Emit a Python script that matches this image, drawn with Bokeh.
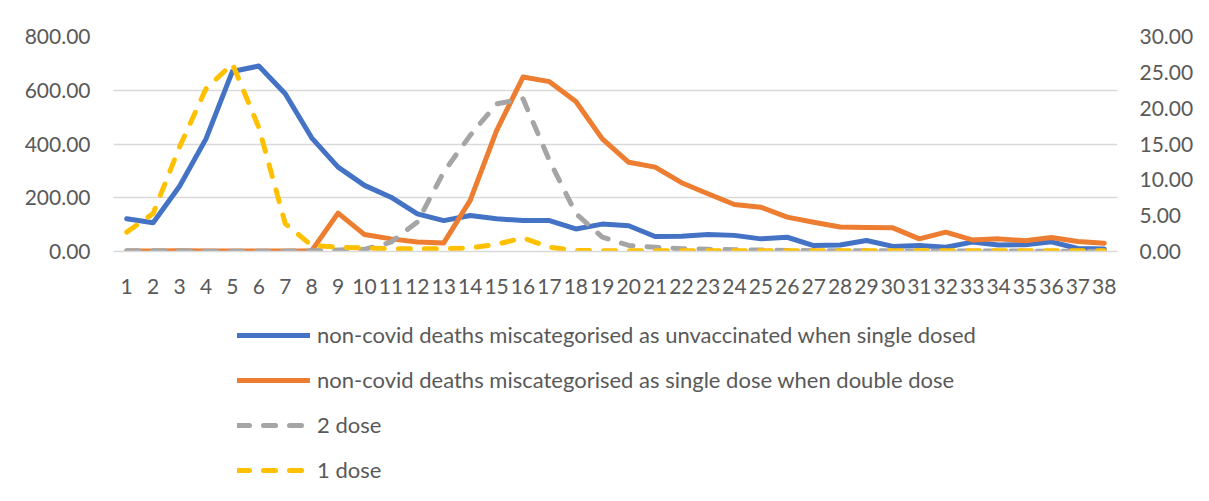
from bokeh.plotting import figure
from bokeh.layouts import column
from bokeh.models import (Range1d, LinearAxis, FactorRange, Legend, LegendItem,
                          NumeralTickFormatter, FixedTicker, BoxAnnotation)
from bokeh.embed import file_html
from bokeh.resources import INLINE

weeks = [str(i) for i in range(1, 39)]

unvacc_single = [122, 107, 243, 419, 670, 690, 587, 423, 314, 246, 202, 140, 115, 134, 122,
                 115, 115, 84, 102, 96, 56, 57, 63, 60, 47, 53,
                 22, 24, 41, 19, 22, 16, 35, 24, 25, 36, 11, 9]
single_double = [2, 2, 3, 2, 2, 2, 2, 3, 143, 63, 47, 35, 32, 190,
                 450, 649, 632, 558, 419, 332, 314, 256, 215, 175, 165, 128,
                 109, 91, 89, 88, 47, 72, 43, 47, 40, 52, 37, 31]
dose2 = [0.1, 0.1, 0.1, 0.05, 0.05, 0.05, 0.05, 0.1, 0.2, 0.3, 1.3, 4.1, 11.1, 16.2,
         20.6, 21.3, 12.7, 5.3, 2.0, 0.84, 0.6, 0.4, 0.3, 0.25, 0.2, 0.15,
         0.12, 0.1, 0.1, 0.08, 0.08, 0.07, 0.06, 0.06, 0.05, 0.05, 0.05, 0.05]
dose1 = [2.7, 5.3, 14.6, 22.7, 26.2, 17.3, 3.9, 0.84, 0.6, 0.5, 0.4, 0.4, 0.4, 0.5,
         1.0, 1.9, 0.6, 0.15] + [0.1] * 20

series_names = ["non-covid deaths miscategorised as unvaccinated when single dosed",
                "non-covid deaths miscategorised as single dose when double dose",
                "2 dose", "1 dose"]

left_ticks = [0, 200, 400, 600, 800]
right_ticks = [0, 5, 10, 15, 20, 25, 30]

FONT = "Lato"
TXT = "#595959"
GRID = "#d9d9d9"
COLORS = ["#4472C4", "#ED7D31", "#A5A5A5", "#FFC000"]
LW = 5

p = figure(frame_width=1004, frame_height=215, x_range=FactorRange(*weeks, range_padding=0),
           y_range=Range1d(0, 800), output_backend="svg", toolbar_location=None,
           min_border_left=113, min_border_right=92, min_border_top=36, min_border_bottom=60)
p.extra_y_ranges = {"right": Range1d(0, 30)}
p.outline_line_color = None
p.background_fill_color = "white"
p.border_fill_color = "white"

p.yaxis.ticker = FixedTicker(ticks=left_ticks)
p.yaxis.formatter = NumeralTickFormatter(format="0.00")
p.yaxis.axis_line_color = None
p.yaxis.major_tick_line_color = None
p.yaxis.minor_tick_line_color = None
p.yaxis.major_tick_out = 0
p.yaxis.major_tick_in = 0
p.yaxis.major_label_standoff = 23
p.yaxis.major_label_text_font = FONT
p.yaxis.major_label_text_font_size = "21px"
p.yaxis.major_label_text_color = TXT

raxis = LinearAxis(y_range_name="right", ticker=FixedTicker(ticks=right_ticks),
                   formatter=NumeralTickFormatter(format="0.00"))
raxis.axis_line_color = None
raxis.major_tick_line_color = None
raxis.minor_tick_line_color = None
raxis.major_tick_out = 0
raxis.major_tick_in = 0
raxis.major_label_standoff = 22
raxis.major_label_text_font = FONT
raxis.major_label_text_font_size = "21px"
raxis.major_label_text_color = TXT
p.add_layout(raxis, "right")

p.xaxis.axis_line_color = GRID
p.xaxis.axis_line_width = 1.5
p.xaxis.major_tick_line_color = None
p.xaxis.minor_tick_line_color = None
p.xaxis.major_tick_out = 0
p.xaxis.major_tick_in = 0
p.xaxis.major_label_standoff = 27
p.xaxis.major_label_text_font = FONT
p.xaxis.major_label_text_font_size = "21px"
p.xaxis.major_label_text_color = TXT

p.xgrid.grid_line_color = None
p.ygrid.grid_line_color = GRID
p.ygrid.grid_line_width = 1.5

r1 = p.line(weeks, unvacc_single, line_color=COLORS[0], line_width=LW, line_join="round", line_cap="round")
r2 = p.line(weeks, single_double, line_color=COLORS[1], line_width=LW, line_join="round", line_cap="round")
r3 = p.line(weeks, dose2, y_range_name="right", line_color=COLORS[2], line_width=LW,
            line_dash="12 14", line_join="round", line_cap="round")
r4 = p.line(weeks, dose1, y_range_name="right", line_color=COLORS[3], line_width=LW,
            line_dash="12 14", line_join="round", line_cap="round")

# chart-area border (left and top edges visible in the reference)
p.add_layout(BoxAnnotation(left=7, right=3000, top=7, bottom=3000,
                           left_units="canvas", right_units="canvas",
                           top_units="canvas", bottom_units="canvas",
                           fill_alpha=0, line_color=GRID, line_width=1.5))

# legend panel: a second figure whose frame is blank and holds only the legend
p2 = figure(width=1209, height=190, x_range=FactorRange(*weeks, range_padding=0),
            y_range=Range1d(100000, 100001), output_backend="svg", toolbar_location=None,
            x_axis_type=None, y_axis_type=None, min_border=0)
p2.outline_line_color = None
p2.xgrid.grid_line_color = None
p2.ygrid.grid_line_color = None
p2.background_fill_color = "white"
p2.border_fill_color = "white"
l1 = p2.line(weeks, unvacc_single, line_color=COLORS[0], line_width=LW, line_cap="round")
l2 = p2.line(weeks, single_double, line_color=COLORS[1], line_width=LW, line_cap="round")
l3 = p2.line(weeks, dose2, line_color=COLORS[2], line_width=LW, line_dash="12 14", line_cap="round")
l4 = p2.line(weeks, dose1, line_color=COLORS[3], line_width=LW, line_dash="12 14", line_cap="round")

p2.add_layout(BoxAnnotation(left=7, right=3000, top=-10, bottom=3000,
                            left_units="canvas", right_units="canvas",
                            top_units="canvas", bottom_units="canvas",
                            fill_alpha=0, line_color=GRID, line_width=1.5))

legend = Legend(items=[LegendItem(label=n, renderers=[r]) for n, r in zip(series_names, [l1, l2, l3, l4])],
                location=(124, 18), orientation="vertical")
legend.glyph_width = 73
legend.glyph_height = 20
legend.label_height = 20
legend.label_standoff = 7
legend.spacing = 18
legend.padding = 0
legend.margin = 0
legend.border_line_color = None
legend.background_fill_alpha = 0
legend.label_text_font = FONT
legend.label_text_font_size = "22px"
legend.label_text_color = TXT
p2.add_layout(legend, "center")

layout = column(p, p2, spacing=0)
out = file_html(layout, INLINE)
open("out.html", "w").write(out)
